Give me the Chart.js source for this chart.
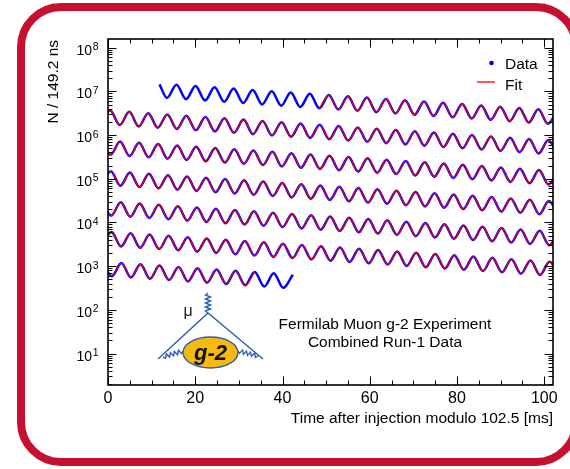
<!DOCTYPE html>
<html>
<head>
<meta charset="utf-8">
<title>Muon g-2 wiggle plot</title>
<script src="https://cdn.jsdelivr.net/npm/chart.js@4.4.1/dist/chart.umd.min.js"></script>
<style>
html, body { margin: 0; padding: 0; background: #fff; overflow: hidden; }
#wrap { position: relative; width: 570px; height: 469px; overflow: hidden; }
#logo { position: absolute; left: 0; top: 0; pointer-events: none; }
</style>
</head>
<body>
<div id="wrap">
<canvas id="wiggleChart" width="570" height="469"></canvas>
<svg id="logo" width="570" height="469">
  <path d="M 61 7 L 536 7 A 40 40 0 0 1 576 47 M 576 422 A 40 40 0 0 1 536 462 L 61 462 A 40 40 0 0 1 21 422 L 21 47 A 40 40 0 0 1 61 7" fill="none" stroke="#c5102f" stroke-width="8"/>
  <g stroke="#2f5fb3" stroke-width="1.4" fill="none">
    <polyline points="158,359 208,313 263,359"/>
    <polyline points="208,313 205.5,311 210.5,309 205.5,307 210.5,305 205.5,303 210.5,301 205.5,299 210.5,297 205.5,295 208,293"/>
    <polyline points="163,357 165.6,358.3 166.4,353.9 169.6,357.1 170.4,352.7 173.6,355.9 174.4,351.5 177.6,354.7 178.4,350.3 181.6,353.5 183,351"/>
    <polyline points="238,351 239.5,353.4 242.5,350.1 243.5,354.4 246.5,351.1 247.5,355.4 250.5,352.1 251.5,356.4 254.5,353.1 255.5,357.4 258,356"/>
  </g>
  <ellipse cx="210.5" cy="352.5" rx="27.5" ry="15.5" fill="#f6b90f" stroke="#2f5fb3" stroke-width="1.4"/>
  <text x="210.5" y="360" text-anchor="middle" font-family="Liberation Sans, Arial, sans-serif" font-weight="bold" font-style="italic" font-size="22" fill="#111">g-2</text>
  <text x="188" y="316" text-anchor="middle" font-family="Liberation Sans, Arial, sans-serif" font-size="16" fill="#222">μ</text>
</svg>
</div>
<script>
// peaks and troughs of the wiggle, one row per 102.5 us wrap (x in us, counts per 149.2 ns bin)
const row1X = [11.8, 13.52, 15.70, 17.88, 20.07, 22.25, 24.43, 26.61, 28.80, 30.98, 33.16, 35.34, 37.53, 39.71, 41.89, 44.07, 46.26, 48.44, 50.62, 52.80, 54.99, 57.17, 59.35, 61.53, 63.72, 65.90, 68.08, 70.26, 72.45, 74.63, 76.81, 78.99, 81.18, 83.36, 85.54, 87.72, 89.91, 92.09, 94.27, 96.45, 98.64, 100.82];
const row1N = [1.45e7, 7.09e6, 1.42e7, 6.62e6, 1.33e7, 6.18e6, 1.24e7, 5.78e6, 1.16e7, 5.40e6, 1.08e7, 5.04e6, 1.01e7, 4.71e6, 9.45e6, 4.40e6, 8.83e6, 4.11e6, 8.25e6, 3.84e6, 7.71e6, 3.59e6, 7.20e6, 3.35e6, 6.73e6, 3.13e6, 6.28e6, 2.92e6, 5.87e6, 2.73e6, 5.48e6, 2.55e6, 5.12e6, 2.38e6, 4.78e6, 2.23e6, 4.47e6, 2.08e6, 4.18e6, 1.94e6, 3.90e6, 1.82e6];

const row2X = [0.50, 2.68, 4.87, 7.05, 9.23, 11.41, 13.60, 15.78, 17.96, 20.14, 22.33, 24.51, 26.69, 28.87, 31.06, 33.24, 35.42, 37.60, 39.79, 41.97, 44.15, 46.33, 48.52, 50.70, 52.88, 55.06, 57.25, 59.43, 61.61, 63.79, 65.98, 68.16, 70.34, 72.52, 74.71, 76.89, 79.07, 81.25, 83.44, 85.62, 87.80, 89.98, 92.17, 94.35, 96.53, 98.71, 100.90];
const row2N = [3.64e6, 1.70e6, 3.40e6, 1.58e6, 3.18e6, 1.48e6, 2.97e6, 1.38e6, 2.78e6, 1.29e6, 2.59e6, 1.21e6, 2.42e6, 1.13e6, 2.26e6, 1.05e6, 2.11e6, 9.84e5, 1.97e6, 9.19e5, 1.84e6, 8.59e5, 1.72e6, 8.02e5, 1.61e6, 7.49e5, 1.50e6, 7.00e5, 1.40e6, 6.54e5, 1.31e6, 6.11e5, 1.23e6, 5.71e5, 1.15e6, 5.33e5, 1.07e6, 4.98e5, 1.00e6, 4.65e5, 9.34e5, 4.35e5, 8.72e5, 4.06e5, 8.15e5, 3.79e5, 7.61e5];

const row3X = [0.58, 2.76, 4.94, 7.13, 9.31, 11.49, 13.67, 15.86, 18.04, 20.22, 22.40, 24.59, 26.77, 28.95, 31.13, 33.32, 35.50, 37.68, 39.86, 42.05, 44.23, 46.41, 48.59, 50.78, 52.96, 55.14, 57.32, 59.51, 61.69, 63.87, 66.05, 68.24, 70.42, 72.60, 74.78, 76.97, 79.15, 81.33, 83.51, 85.70, 87.88, 90.06, 92.24, 94.43, 96.61, 98.79, 100.97];
const row3N = [3.54e5, 7.11e5, 3.31e5, 6.64e5, 3.09e5, 6.21e5, 2.89e5, 5.80e5, 2.70e5, 5.42e5, 2.52e5, 5.06e5, 2.35e5, 4.73e5, 2.20e5, 4.42e5, 2.06e5, 4.13e5, 1.92e5, 3.85e5, 1.79e5, 3.60e5, 1.68e5, 3.36e5, 1.57e5, 3.14e5, 1.46e5, 2.94e5, 1.37e5, 2.74e5, 1.28e5, 2.56e5, 1.19e5, 2.39e5, 1.11e5, 2.24e5, 1.04e5, 2.09e5, 9.72e4, 1.95e5, 9.08e4, 1.82e5, 8.48e4, 1.70e5, 7.92e4, 1.59e5, 7.40e4];

const row4X = [0.66, 2.84, 5.02, 7.20, 9.39, 11.57, 13.75, 15.93, 18.12, 20.30, 22.48, 24.66, 26.85, 29.03, 31.21, 33.39, 35.58, 37.76, 39.94, 42.12, 44.31, 46.49, 48.67, 50.85, 53.04, 55.22, 57.40, 59.58, 61.77, 63.95, 66.13, 68.31, 70.50, 72.68, 74.86, 77.04, 79.23, 81.41, 83.59, 85.77, 87.96, 90.14, 92.32, 94.50, 96.69, 98.87, 101.05];
const row4N = [1.49e5, 6.91e4, 1.39e5, 6.46e4, 1.30e5, 6.03e4, 1.21e5, 5.64e4, 1.13e5, 5.27e4, 1.06e5, 4.92e4, 9.87e4, 4.60e4, 9.22e4, 4.29e4, 8.62e4, 4.01e4, 8.05e4, 3.75e4, 7.52e4, 3.50e4, 7.03e4, 3.27e4, 6.56e4, 3.05e4, 6.13e4, 2.85e4, 5.73e4, 2.67e4, 5.35e4, 2.49e4, 5.00e4, 2.33e4, 4.67e4, 2.17e4, 4.36e4, 2.03e4, 4.08e4, 1.90e4, 3.81e4, 1.77e4, 3.56e4, 1.66e4, 3.32e4, 1.55e4, 3.10e4];

const row5X = [0.73, 2.92, 5.10, 7.28, 9.46, 11.65, 13.83, 16.01, 18.19, 20.38, 22.56, 24.74, 26.92, 29.11, 31.29, 33.47, 35.65, 37.84, 40.02, 42.20, 44.38, 46.57, 48.75, 50.93, 53.11, 55.30, 57.48, 59.66, 61.84, 64.03, 66.21, 68.39, 70.57, 72.76, 74.94, 77.12, 79.30, 81.49, 83.67, 85.85, 88.03, 90.22, 92.40, 94.58, 96.76, 98.95, 101.13];
const row5N = [1.44e4, 2.90e4, 1.35e4, 2.71e4, 1.26e4, 2.53e4, 1.18e4, 2.36e4, 1.10e4, 2.21e4, 1.03e4, 2.06e4, 9.60e3, 1.93e4, 8.97e3, 1.80e4, 8.38e3, 1.68e4, 7.83e3, 1.57e4, 7.31e3, 1.47e4, 6.83e3, 1.37e4, 6.38e3, 1.28e4, 5.96e3, 1.20e4, 5.57e3, 1.12e4, 5.20e3, 1.04e4, 4.86e3, 9.75e3, 4.54e3, 9.11e3, 4.24e3, 8.51e3, 3.96e3, 7.95e3, 3.70e3, 7.43e3, 3.46e3, 6.94e3, 3.23e3, 6.48e3, 3.02e3];

const row6X = [0.81, 2.99, 5.18, 7.36, 9.54, 11.72, 13.91, 16.09, 18.27, 20.45, 22.64, 24.82, 27.00, 29.18, 31.37, 33.55, 35.73, 37.91, 40.10, 42.28, 44.46, 46.64, 48.83, 51.01, 53.19, 55.37, 57.56, 59.74, 61.92, 64.10, 66.29, 68.47, 70.65, 72.83, 75.02, 77.20, 79.38, 81.56, 83.75, 85.93, 88.11, 90.29, 92.48, 94.66, 96.84, 99.02, 101.21];
const row6N = [6.06e3, 2.82e3, 5.66e3, 2.63e3, 5.29e3, 2.46e3, 4.94e3, 2.30e3, 4.61e3, 2.15e3, 4.31e3, 2.01e3, 4.03e3, 1.87e3, 3.76e3, 1.75e3, 3.51e3, 1.63e3, 3.28e3, 1.53e3, 3.07e3, 1.43e3, 2.86e3, 1.33e3, 2.68e3, 1.25e3, 2.50e3, 1163, 2.34e3, 1087, 2.18e3, 1015, 2.04e3, 948, 1.90e3, 886, 1.78e3, 828, 1.66e3, 773, 1.55e3, 722, 1.45e3, 675, 1.35e3, 630, 1265];

const row7X = [0.89, 3.07, 5.25, 7.44, 9.62, 11.80, 13.98, 16.17, 18.35, 20.53, 22.71, 24.90, 27.08, 29.26, 31.44, 33.63, 35.81, 37.99, 40.17, 42.36];
const row7N = [589, 1182, 550, 1104, 514, 1032, 480, 964, 449, 900, 419, 841, 391, 786, 366, 734, 342, 686, 319, 640];

const wrapPeriod = 102.5;   // us, the modulo of the x axis
const fitStartX = 48.44;    // fit starts on the first row
const fitEndX = 33.63;      // and stops on the last row

const xTickValues = [0, 5, 10, 15, 20, 25, 30, 35, 40, 45, 50, 55, 60, 65, 70, 75, 80, 85, 90, 95, 100];
const xLabelValues = [0, 20, 40, 60, 80, 100];
const yExponents = [1, 2, 3, 4, 5, 6, 7, 8];
const yTickFactors = [1, 2, 3, 4, 5, 6, 7, 8, 9];

const legendLabels = ['Data', 'Fit'];
const noteLines = ['Fermilab Muon g-2 Experiment', 'Combined Run-1 Data'];
const xTitle = 'Time after injection modulo 102.5 [ms]';
const yTitle = 'N / 149.2 ns';

const fontFamily = '"Liberation Sans", Arial, Helvetica, sans-serif';
const dataBlue = '#0000ff';
const fitRed = '#ff0000';

const rowsX = [row1X, row2X, row3X, row4X, row5X, row6X, row7X];
const rowsN = [row1N, row2N, row3N, row4N, row5N, row6N, row7N];

// a row plus the edge points of its neighbours carried across the wrap,
// so each curve runs out to the frame instead of stopping short
function rowPoints(r) {
    const pts = rowsX[r].map((x, i) => ({ x: x, y: rowsN[r][i] }));
    if (r > 0) {
        const px = rowsX[r - 1], pn = rowsN[r - 1];
        pts.unshift({ x: px[px.length - 1] - wrapPeriod, y: pn[pn.length - 1] });
    }
    if (r < rowsX.length - 1) {
        pts.push({ x: rowsX[r + 1][0] + wrapPeriod, y: rowsN[r + 1][0] });
    }
    return pts;
}

const datasets = [];
rowsX.forEach((_, r) => {
    let fitPts = rowPoints(r);
    if (r === 0) fitPts = fitPts.filter(p => p.x >= fitStartX);
    if (r === rowsX.length - 1) fitPts = fitPts.filter(p => p.x <= fitEndX);
    datasets.push({
        label: legendLabels[0],
        data: rowPoints(r),
        borderColor: dataBlue,
        borderWidth: 2.5,
        order: 1
    });
    datasets.push({
        label: legendLabels[1],
        data: fitPts,
        borderColor: fitRed,
        borderWidth: 1.1,
        order: 0
    });
});

const rootAxes = {
    id: 'rootAxes',
    afterDatasetsDraw(chart) {
        const { ctx, chartArea: a } = chart;
        const xs = chart.scales.x, ys = chart.scales.y;
        ctx.save();
        ctx.strokeStyle = '#000';
        ctx.lineWidth = 1;
        ctx.beginPath();
        // ticks point inwards on all four sides
        xTickValues.forEach(v => {
            const px = Math.round(xs.getPixelForValue(v)) + 0.5;
            const len = xLabelValues.includes(v) ? 8.5 : 4.5;
            ctx.moveTo(px, a.bottom); ctx.lineTo(px, a.bottom - len);
            ctx.moveTo(px, a.top); ctx.lineTo(px, a.top + len);
        });
        [0].concat(yExponents).forEach(e => {
            yTickFactors.forEach(f => {
                const v = f * Math.pow(10, e);
                if (v < ys.min || v > ys.max) return;
                const py = Math.round(ys.getPixelForValue(v)) + 0.5;
                const len = f === 1 ? 8.5 : 4.5;
                ctx.moveTo(a.left, py); ctx.lineTo(a.left + len, py);
                ctx.moveTo(a.right, py); ctx.lineTo(a.right - len, py);
            });
        });
        ctx.stroke();
        ctx.lineWidth = 1.6;
        ctx.strokeRect(a.left, a.top, a.right - a.left, a.bottom - a.top);
        ctx.restore();
    },
    afterDraw(chart) {
        const { ctx, chartArea: a } = chart;
        const xs = chart.scales.x, ys = chart.scales.y;
        ctx.save();
        ctx.fillStyle = '#000';

        // x tick labels
        ctx.font = '16px ' + fontFamily;
        ctx.textAlign = 'center';
        ctx.textBaseline = 'alphabetic';
        xLabelValues.forEach(v => ctx.fillText(String(v), xs.getPixelForValue(v), 402.5));

        // y tick labels: 10 with a raised exponent
        yExponents.forEach(e => {
            const py = ys.getPixelForValue(Math.pow(10, e));
            ctx.font = '10.5px ' + fontFamily;
            const ew = ctx.measureText(String(e)).width;
            ctx.textAlign = 'right';
            ctx.fillText(String(e), 98.5, py + 2.5);
            ctx.font = '14px ' + fontFamily;
            ctx.fillText('10', 98.5 - ew - 0.5, py + 7);
        });

        // axis titles, both at the far end of their axis
        ctx.font = '15.5px ' + fontFamily;
        ctx.textAlign = 'right';
        ctx.fillText(xTitle, a.right, 423);
        ctx.save();
        ctx.translate(58, a.top + 1);
        ctx.rotate(-Math.PI / 2);
        ctx.fillText(yTitle, 0, 0);
        ctx.restore();

        // legend
        ctx.fillStyle = dataBlue;
        ctx.beginPath();
        ctx.arc(491.5, 63, 2.3, 0, Math.PI * 2);
        ctx.fill();
        ctx.strokeStyle = fitRed;
        ctx.lineWidth = 1.3;
        ctx.beginPath();
        ctx.moveTo(477, 82); ctx.lineTo(495, 82);
        ctx.stroke();
        ctx.fillStyle = '#000';
        ctx.textAlign = 'left';
        ctx.fillText(legendLabels[0], 505, 68.5);
        ctx.fillText(legendLabels[1], 505, 90);

        // experiment note
        ctx.textAlign = 'center';
        ctx.fillText(noteLines[0], 385, 328.5);
        ctx.fillText(noteLines[1], 385, 347);
        ctx.restore();
    }
};

const wiggleChart = new Chart(document.getElementById('wiggleChart').getContext('2d'), {
    type: 'line',
    data: { datasets: datasets },
    options: {
        responsive: false,
        animation: false,
        events: [],
        layout: { padding: { left: 0, top: 39, right: 17, bottom: 0 } },
        elements: {
            point: { radius: 0 },
            line: { tension: 0.4, cubicInterpolationMode: 'monotone', capBezierPoints: false, fill: false }
        },
        datasets: { line: { clip: 0 } },
        plugins: { legend: { display: false }, tooltip: { enabled: false } },
        scales: {
            x: {
                type: 'linear',
                min: 0,
                max: 102,
                grid: { display: false },
                border: { display: false },
                ticks: { display: false },
                afterFit: s => { s.height = 84; }
            },
            y: {
                type: 'logarithmic',
                min: 1.91,
                max: 1.58e8,
                grid: { display: false },
                border: { display: false },
                ticks: { display: false },
                afterFit: s => { s.width = 108; }
            }
        }
    },
    plugins: [rootAxes]
});
</script>
</body>
</html>
